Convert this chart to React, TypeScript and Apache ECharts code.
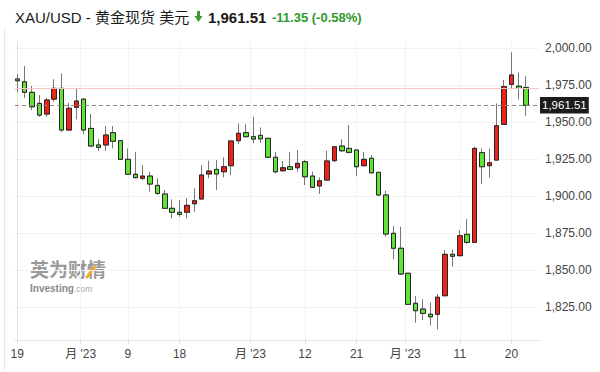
import React, { useEffect, useRef } from 'react';
import * as echarts from 'echarts';

// ---- Data ----
const openPrices = [
  1979.3, 1977.4, 1970.3, 1962.8, 1955.6, 1965.7, 1973.0, 1944.8, 1960.1, 1965.7,
  1945.9, 1934.7, 1934.7, 1943.0, 1937.6, 1925.0, 1914.9, 1912.2, 1913.7, 1907.4,
  1901.6, 1891.9, 1889.2, 1889.2, 1895.0, 1898.2, 1915.1, 1918.2, 1916.6, 1920.7,
  1937.6, 1943.0, 1940.3, 1941.2, 1939.2, 1926.4, 1917.3, 1920.0, 1919.3, 1923.4,
  1913.7, 1907.0, 1911.0, 1924.1, 1934.0, 1932.4, 1931.3, 1920.7, 1925.7, 1916.2,
  1900.9, 1875.0, 1864.9, 1848.0, 1827.7, 1823.8, 1820.3, 1820.3, 1832.8, 1860.8,
  1859.9, 1874.3, 1868.9, 1929.5, 1920.7, 1924.5, 1948.6, 1975.7, 1974.4, 1973.6,
];
const closePrices = [
  1978.1, 1970.3, 1960.5, 1954.9, 1965.1, 1973.0, 1944.8, 1959.5, 1964.4, 1944.8,
  1934.0, 1933.1, 1941.4, 1937.2, 1925.0, 1914.9, 1912.6, 1913.7, 1908.3, 1902.0,
  1891.9, 1889.2, 1887.8, 1893.9, 1897.0, 1914.4, 1917.1, 1915.1, 1920.0, 1937.4,
  1942.6, 1940.3, 1938.7, 1938.9, 1926.4, 1916.6, 1919.3, 1918.2, 1922.3, 1913.2,
  1906.1, 1910.5, 1923.9, 1933.5, 1930.8, 1929.7, 1920.0, 1925.0, 1915.9, 1900.9,
  1874.5, 1864.9, 1847.5, 1827.0, 1822.7, 1820.9, 1818.6, 1831.8, 1860.8, 1859.5,
  1873.4, 1868.9, 1932.4, 1920.0, 1922.7, 1947.7, 1974.1, 1982.0, 1972.86, 1961.51,
];
const lowPrices = [
  1970.7, 1966.4, 1958.3, 1953.8, 1953.8, 1963.9, 1943.6, 1944.2, 1952.0, 1942.1,
  1933.5, 1930.8, 1930.8, 1932.4, 1924.5, 1914.4, 1912.2, 1911.0, 1903.1, 1900.9,
  1891.5, 1885.1, 1886.2, 1885.1, 1889.6, 1898.0, 1912.2, 1904.3, 1912.8, 1914.4,
  1935.3, 1940.0, 1935.8, 1936.2, 1926.0, 1915.5, 1916.6, 1917.8, 1916.6, 1907.6,
  1905.8, 1901.6, 1910.8, 1923.0, 1930.1, 1929.1, 1913.7, 1920.0, 1915.5, 1900.3,
  1872.7, 1857.6, 1846.8, 1826.6, 1814.6, 1816.4, 1812.6, 1810.1, 1832.6, 1852.4,
  1859.5, 1867.8, 1868.5, 1908.3, 1912.6, 1924.3, 1948.4, 1973.0, 1965.5, 1954.5,
];
const highPrices = [
  1982.4, 1988.0, 1974.5, 1968.4, 1966.6, 1979.1, 1983.1, 1963.2, 1973.0, 1965.9,
  1955.6, 1938.7, 1947.5, 1947.5, 1938.0, 1932.4, 1930.1, 1921.1, 1916.6, 1912.2,
  1904.3, 1898.0, 1897.5, 1898.8, 1905.4, 1921.1, 1924.1, 1924.5, 1926.4, 1937.6,
  1949.3, 1948.9, 1953.8, 1946.6, 1939.5, 1930.1, 1923.9, 1930.1, 1931.3, 1924.5,
  1916.6, 1912.8, 1930.8, 1933.7, 1938.5, 1948.2, 1931.5, 1930.1, 1928.0, 1916.4,
  1903.8, 1879.9, 1879.5, 1848.2, 1832.6, 1830.4, 1828.4, 1834.0, 1863.7, 1864.2,
  1877.2, 1884.7, 1933.5, 1932.4, 1932.2, 1962.8, 1978.6, 1997.3, 1983.8, 1981.3,
];
const tickPositions = [0, 8.6, 15, 22, 31.6, 39, 46, 52.6, 60, 67];
const tickLabels = ['19', "月 '23", '9', '18', "月 '23", '12', '21', "月 '23", '11', '20'];
const priceTicks = [1825, 1850, 1875, 1900, 1925, 1950, 1975, 2000];
const lastPrice = 1961.51;
const prevClose = 1972.86;
const changeText = '-11.35 (-0.58%)';
const titleText = 'XAU/USD - 黄金现货 美元';

const FONT = '"Liberation Sans", Arial, "Noto Sans CJK SC", sans-serif';

function fmtPrice(v: number): string {
  const s = v.toFixed(2);
  const [i, d] = s.split('.');
  return i.replace(/\B(?=(\d{3})+(?!\d))/g, ',') + '.' + d;
}

export default function App() {
  const ref = useRef<HTMLDivElement>(null);

  useEffect(() => {
    document.body.style.margin = '0';
    if (!ref.current) return;
    const chart = echarts.init(ref.current, undefined, { renderer: 'svg' });

    const wickData = openPrices.map((o, i) => [i, o, closePrices[i], lowPrices[i], highPrices[i]]);
    const bodyData = openPrices.map((o, i) => [
      i,
      o,
      closePrices[i],
      Math.min(o, closePrices[i]),
      Math.max(o, closePrices[i]),
    ]);

    const option: any = {
      animation: false,
      grid: { left: 15, right: 61, top: 42, bottom: 32, containLabel: false },
      xAxis: {
        type: 'value',
        min: -0.31,
        max: 70.73,
        axisLine: { show: true, onZero: false, lineStyle: { color: '#e2e2e2' } },
        axisTick: { show: true, length: 4, lineStyle: { color: '#e2e2e2' }, customValues: tickPositions },
        axisLabel: {
          customValues: tickPositions,
          formatter: (v: number) => {
            const k = tickPositions.findIndex((t) => Math.abs(t - v) < 0.01);
            return k >= 0 ? tickLabels[k] : '';
          },
          color: '#444',
          fontSize: 12,
          margin: 8,
          fontFamily: FONT,
        },
        splitLine: { show: true, lineStyle: { color: '#f2f2f2' } },
      },
      yAxis: {
        type: 'value',
        position: 'right',
        min: 1802.9,
        max: 2004.3,
        axisLine: { show: true, lineStyle: { color: '#e2e2e2' } },
        axisTick: { show: false, customValues: priceTicks },
        axisLabel: {
          customValues: priceTicks,
          formatter: (v: number) => fmtPrice(v),
          color: '#444',
          fontSize: 12,
          margin: 6,
          fontFamily: FONT,
        },
        splitLine: { show: true, lineStyle: { color: '#f2f2f2' } },
      },
      series: [
        {
          type: 'candlestick',
          name: 'wick',
          data: wickData,
          encode: { x: 0, y: [1, 2, 3, 4] },
          barWidth: 5,
          clip: false,
          silent: true,
          itemStyle: {
            color: '#777',
            color0: '#777',
            borderColor: '#777',
            borderColor0: '#777',
            borderWidth: 1,
          },
        },
        {
          type: 'candlestick',
          name: 'XAU/USD',
          data: bodyData,
          encode: { x: 0, y: [1, 2, 3, 4] },
          barWidth: 5,
          clip: false,
          itemStyle: {
            color: '#ee2219',
            color0: '#62e236',
            borderColor: '#262626',
            borderColor0: '#262626',
            borderWidth: 1,
          },
          markLine: {
            symbol: ['none', 'none'],
            silent: true,
            animation: false,
            data: [
              {
                yAxis: prevClose,
                lineStyle: { color: '#f5c4c4', type: 'solid', width: 1 },
                label: { show: false },
              },
              {
                yAxis: lastPrice,
                lineStyle: { color: '#8a8a8a', type: [4, 3], width: 1 },
                label: {
                  show: true,
                  position: 'end',
                  formatter: fmtPrice(lastPrice),
                  backgroundColor: '#1c1c1c',
                  color: '#fff',
                  padding: [3, 2, 2, 2],
                  fontSize: 11.5,
                  fontFamily: FONT,
                  distance: 1,
                },
              },
            ],
          },
        },
      ],
      graphic: [
        {
          type: 'line',
          shape: { x1: 4.5, y1: 28, x2: 4.5, y2: 370 },
          style: { stroke: '#e6e6e6', lineWidth: 1 },
          silent: true,
        },
        {
          type: 'text',
          x: 15,
          y: 17,
          style: {
            text: titleText,
            fontSize: 15,
            fontFamily: FONT,
            fill: '#1a1a1a',
            verticalAlign: 'middle',
          },
        },
        {
          type: 'polygon',
          shape: {
            points: [
              [197, 11],
              [200, 11],
              [200, 16],
              [202.5, 16],
              [198.5, 22],
              [194.5, 16],
              [197, 16],
            ],
          },
          style: { fill: '#3d9b35' },
        },
        {
          type: 'text',
          x: 208,
          y: 17,
          style: {
            text: fmtPrice(lastPrice),
            fontSize: 15,
            fontWeight: 'bold',
            fontFamily: FONT,
            fill: '#1a1a1a',
            verticalAlign: 'middle',
          },
        },
        {
          type: 'text',
          x: 272,
          y: 17,
          style: {
            text: changeText,
            fontSize: 13,
            fontWeight: 'bold',
            fontFamily: FONT,
            fill: '#2f9a2a',
            verticalAlign: 'middle',
          },
        },
        {
          type: 'text',
          x: 30,
          y: 268,
          style: {
            text: '英为财情',
            fontSize: 19,
            lineHeight: 18,
            fontWeight: 'bold',
            fontFamily: '"Noto Sans CJK SC", sans-serif',
            fill: '#9a9a9a',
            verticalAlign: 'middle',
          },
          silent: true,
        },
        {
          type: 'polyline',
          shape: { points: [[86.5, 278], [90.5, 272], [95, 266]] },
          style: { stroke: '#f4a52a', lineWidth: 3, fill: 'none' },
          silent: true,
        },
        {
          type: 'text',
          x: 30,
          y: 288.5,
          style: {
            text: '{a|Investing}{b|.com}',
            rich: {
              a: { fontSize: 10, lineHeight: 11, fontWeight: 'bold', fontFamily: FONT, fill: '#8a8a8a' },
              b: { fontSize: 8.5, lineHeight: 11, fontFamily: FONT, fill: '#a8a8a8' },
            },
            verticalAlign: 'middle',
          },
          silent: true,
        },
      ],
    };

    chart.setOption(option);
    return () => {
      chart.dispose();
    };
  }, []);

  return <div ref={ref} style={{ width: 600, height: 372, background: '#fff' }} />;
}
